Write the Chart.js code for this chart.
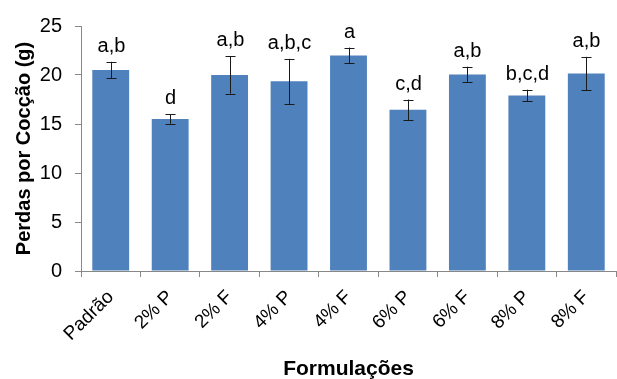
<!DOCTYPE html>
<html>
<head>
<meta charset="utf-8">
<script src="https://cdn.jsdelivr.net/npm/chart.js@4/dist/chart.umd.min.js"></script>
<style>
  html, body { margin: 0; padding: 0; background: #fff; }
  #wrap { width: 617px; height: 379px; }
</style>
</head>
<body>
<div id="wrap"><canvas id="perdas"></canvas></div>
<script>
let categories = ['Padrão', '2% P', '2% F', '4% P', '4% F', '6% P', '6% F', '8% P', '8% F'];
let perdas = [20.5, 15.5, 20.0, 19.35, 22.0, 16.45, 20.05, 17.9, 20.15];
let desvios = [0.85, 0.47, 1.9, 2.3, 0.8, 1.05, 0.8, 0.6, 1.7];
let letras = ['a,b', 'd', 'a,b', 'a,b,c', 'a', 'c,d', 'a,b', 'b,c,d', 'a,b'];
let yTicks = [0, 5, 10, 15, 20, 25];

let fonte = '"Liberation Sans", Arial, sans-serif';

// error bars + letters above them
let errorBars = {
    id: 'errorBars',
    afterDatasetsDraw: function(chart) {
        let ctx = chart.ctx;
        let x = chart.scales.x;
        let y = chart.scales.y;
        ctx.save();
        ctx.strokeStyle = '#1a1a1a';
        ctx.lineWidth = 1;
        for (let i = 0; i < perdas.length; i++) {
            let cx = Math.round(x.getPixelForValue(i)) + 0.5;
            let top = y.getPixelForValue(perdas[i] + desvios[i]);
            let bot = y.getPixelForValue(perdas[i] - desvios[i]);
            ctx.beginPath();
            ctx.moveTo(cx, top);
            ctx.lineTo(cx, bot);
            ctx.moveTo(cx - 5, Math.round(top) + 0.5);
            ctx.lineTo(cx + 5, Math.round(top) + 0.5);
            ctx.moveTo(cx - 5, Math.round(bot) + 0.5);
            ctx.lineTo(cx + 5, Math.round(bot) + 0.5);
            ctx.stroke();

            ctx.fillStyle = '#000';
            ctx.font = '20px ' + fonte;
            ctx.textAlign = 'center';
            ctx.textBaseline = 'alphabetic';
            ctx.fillText(letras[i], cx, top - 10);
        }
        ctx.restore();
    }
};

let ctx = document.getElementById('perdas').getContext('2d');

let chart = new Chart(ctx, {
    type: 'bar',
    data: {
        labels: categories,
        datasets: [{
            label: 'Perdas por Cocção (g)',
            data: perdas,
            backgroundColor: '#4f81bd',
            borderWidth: 0,
            barPercentage: 0.62,
            categoryPercentage: 1.0
        }]
    },
    options: {
        responsive: true,
        maintainAspectRatio: false,
        animation: false,
        layout: { padding: { top: 26, right: 1, left: 0, bottom: 0 } },
        plugins: {
            legend: { display: false },
            tooltip: { enabled: false }
        },
        scales: {
            x: {
                grid: { display: true, drawOnChartArea: false, offset: true, tickLength: 6, color: '#888' },
                border: { color: '#888' },
                ticks: {
                    color: '#000',
                    font: { family: fonte, size: 19 },
                    minRotation: 45,
                    maxRotation: 45,
                    padding: 9
                },
                title: {
                    display: true,
                    text: 'Formulações',
                    color: '#000',
                    font: { family: fonte, size: 21, weight: 'bold' },
                    padding: { top: 0, bottom: -3 }
                },
                afterFit: function(scale) { scale.height = 108; }
            },
            y: {
                min: 0,
                max: 25,
                afterBuildTicks: function(scale) {
                    scale.ticks = yTicks.map(function(v) { return { value: v }; });
                },
                grid: { display: true, drawOnChartArea: false, tickLength: 6, color: '#888' },
                border: { color: '#888' },
                ticks: {
                    color: '#000',
                    font: { family: fonte, size: 20 },
                    padding: 13
                },
                title: {
                    display: true,
                    text: 'Perdas por Cocção (g)',
                    color: '#000',
                    font: { family: fonte, size: 20, weight: 'bold' },
                    padding: { top: 12, bottom: 0 }
                },
                afterFit: function(scale) { scale.width = 81; }
            }
        }
    },
    plugins: [errorBars]
});
</script>
</body>
</html>
